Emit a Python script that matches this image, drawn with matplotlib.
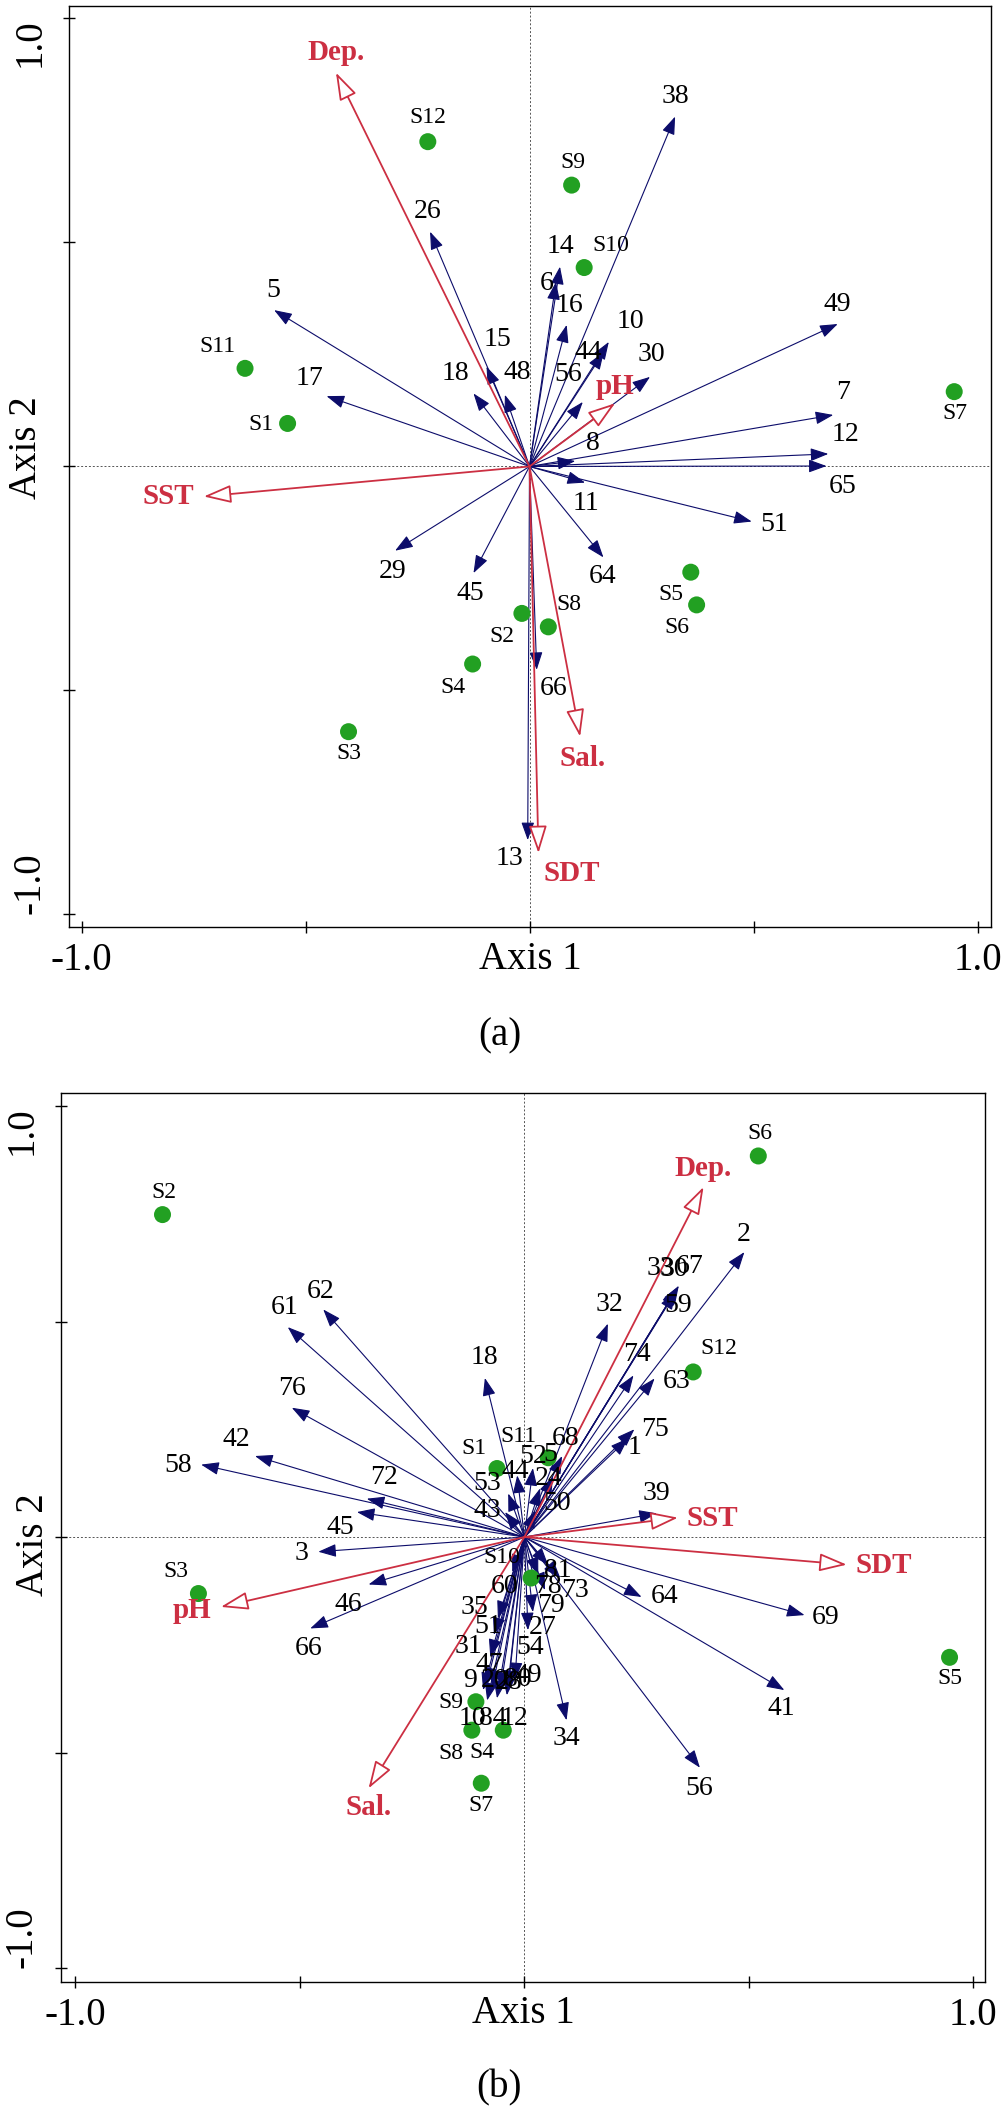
import numpy as np
import matplotlib
matplotlib.use('Agg')
import matplotlib.pyplot as plt

plt.rcParams['font.family'] = 'Liberation Serif'

NAVY = '#0c0c6a'
RED = '#cc2f42'
GREEN = '#22a022'

# ---------------- panel (a) ----------------
a_env = ['Dep.', 'SST', 'pH', 'Sal.', 'SDT']
a_env_x = [-0.432, -0.727, 0.191, 0.113, 0.020]
a_env_y = [0.879, -0.067, 0.141, -0.603, -0.863]

a_sp = ['5', '17', '26', '15', '18', '48', '38', '14', '6', '16', '10', '44', '56',
        '30', '49', '7', '12', '65', '8', '11', '51', '64', '66', '13', '29', '45']
a_sp_x = [-0.570, -0.453, -0.222, -0.096, -0.125, -0.055, 0.325, 0.068, 0.059, 0.083,
          0.177, 0.166, 0.119, 0.269, 0.688, 0.678, 0.667, 0.663, 0.102, 0.124,
          0.496, 0.165, 0.016, -0.004, -0.300, -0.125]
a_sp_y = [0.349, 0.157, 0.524, 0.223, 0.163, 0.160, 0.781, 0.446, 0.412, 0.316,
          0.278, 0.256, 0.144, 0.200, 0.318, 0.115, 0.028, 0.001, 0.012, -0.036,
          -0.123, -0.203, -0.454, -0.834, -0.188, -0.238]

a_site = ['S12', 'S9', 'S10', 'S11', 'S1', 'S7', 'S5', 'S6', 'S8', 'S2', 'S4', 'S3']
a_site_x = [-0.227, 0.094, 0.122, -0.635, -0.540, 0.948, 0.360, 0.373, 0.042, -0.017, -0.127, -0.404]
a_site_y = [0.725, 0.628, 0.444, 0.219, 0.096, 0.167, -0.236, -0.309, -0.358, -0.328, -0.441, -0.592]

# ---------------- panel (b) ----------------
b_env = ['Dep.', 'SST', 'SDT', 'pH', 'Sal.']
b_env_x = [0.399, 0.342, 0.718, -0.676, -0.347]
b_env_y = [0.812, 0.045, -0.064, -0.162, -0.583]

b_sp = ['62', '61', '18', '76', '42', '58', '72', '45', '3', '46', '66', '2',
        '33', '30', '67', '59', '32', '74', '63', '75', '1', '39', '64', '69', '41', '56', '34',
        '53', '43', '44', '52', '5', '68', '50', '24',
        '60', '35', '51', '31', '47', '9', '20', '28', '80', '49', '10', '84', '12',
        '54', '27', '79', '78', '81', '73']
b_sp_x = [-0.448, -0.527, -0.088, -0.518, -0.600, -0.720, -0.351, -0.373, -0.459, -0.347, -0.477, 0.490,
          0.342, 0.340, 0.344, 0.337, 0.186, 0.243, 0.290, 0.245, 0.231, 0.295, 0.261, 0.624, 0.579, 0.391, 0.094,
          -0.036, -0.043, -0.016, 0.019, 0.064, 0.084, 0.024, 0.035,
          -0.027, -0.059, -0.068, -0.076, -0.085, -0.092, -0.072, -0.054, -0.036, -0.021, -0.083, -0.061, -0.039,
          0.008, 0.019, 0.046, 0.031, 0.053, 0.080]
b_sp_y = [0.528, 0.487, 0.369, 0.300, 0.188, 0.168, 0.089, 0.058, -0.034, -0.110, -0.212, 0.661,
          0.580, 0.577, 0.583, 0.569, 0.495, 0.375, 0.368, 0.250, 0.229, 0.055, -0.139, -0.181, -0.355, -0.535, -0.425,
          0.101, 0.058, 0.143, 0.160, 0.141, 0.188, 0.062, 0.113,
          -0.081, -0.189, -0.227, -0.278, -0.343, -0.355, -0.350, -0.355, -0.350, -0.332, -0.379, -0.374, -0.367,
          -0.216, -0.174, -0.123, -0.088, -0.065, -0.095]

b_site = ['S2', 'S6', 'S12', 'S1', 'S11', 'S10', 'S3', 'S5', 'S9', 'S8', 'S4', 'S7']
b_site_x = [-0.806, 0.521, 0.376, -0.061, 0.053, 0.015, -0.726, 0.947, -0.108, -0.117, -0.047, -0.096]
b_site_y = [0.748, 0.884, 0.383, 0.159, 0.184, -0.095, -0.131, -0.279, -0.382, -0.448, -0.448, -0.571]

# label offsets (pixels) from arrow tips / points
a_env_off = [(0, 20), (-36, 0), (0, 17), (2, -22), (33, -20)]
a_sp_off = [(-1, 20), (-17, 18), (-2, 20), (11, 27), (-18, 20), (12, 22), (0, 20), (0, 20), (-9, -2),
            (3, 19), (22, 20), (-16, -1), (-15, 27), (1, 22), (0, 20), (10, 22), (17, 19), (16, -20),
            (18, 18), (1, -21), (22, -3), (-1, -19), (17, -19), (-18, -18), (-2, -21), (-3, -20)]
a_site_off = [(0, 24), (1, 23), (27, 22), (-28, 22), (-27, -1), (1, -22), (-20, -22), (-20, -23),
              (21, 22), (-20, -23), (-20, -23), (0, -22)]

b_env_off = [(0, 19), (34, -1), (37, -1), (-29, -4), (0, -19)]
b_sp_off = [(-3, 18), (-3, 20), (0, 20), (0, 19), (-19, 17), (-23, -1), (17, 21), (-17, -15), (-17, -2),
            (-20, -20), (-2, -20), (-1, 18),
            (-17, 19), (-3, 19), (11, 19), (3, -14), (2, 19), (3, 21), (22, -3), (21, 0), (6, -9), (0, 20),
            (23, 0), (21, -2), (-3, -18), (-1, -21), (0, -18),
            (-21, 10), (-18, 2), (-2, 4), (0, 12), (-3, 22), (3, 18), (22, 7), (8, 10),
            (-8, -15), (-23, 11), (-6, 8), (-22, 10), (3, 20), (-13, 10), (3, 7), (8, 8), (10, 8), (13, 5),
            (-15, -18), (-4, -20), (8, -23),
            (2, -17), (10, -15), (6, -15), (10, -12), (10, -5), (15, -12)]
b_site_off = [(1, 22), (2, 22), (26, 23), (-23, 20), (-30, 21), (-29, 21), (-23, 22), (0, -21),
              (-25, -1), (-21, -23), (-21, -22), (0, -22)]


def biplot(ax, env, ex, ey, eoff, sp, sx, sy, soff, site, tx, ty, toff):
    ax.axhline(0, color='#555555', lw=0.7, ls=(0, (2, 2)), zorder=1)
    ax.axvline(0, color='#555555', lw=0.7, ls=(0, (2, 2)), zorder=1)
    for lab, x, y, off in zip(sp, sx, sy, soff):
        ax.annotate('', xy=(x, y), xytext=(0, 0),
                    arrowprops=dict(arrowstyle='-|>,head_length=0.55,head_width=0.2',
                                    color=NAVY, lw=0.8, shrinkA=0, shrinkB=0,
                                    mutation_scale=20), zorder=3)
        ax.annotate(lab, xy=(x, y), xytext=off, textcoords='offset pixels',
                    ha='center', va='center', fontsize=20, color='black', zorder=6)
    for lab, x, y, off in zip(env, ex, ey, eoff):
        ax.annotate('', xy=(x, y), xytext=(0, 0),
                    arrowprops=dict(arrowstyle='-|>,head_length=0.85,head_width=0.28',
                                    ec=RED, fc='white', lw=1.3, shrinkA=0, shrinkB=0,
                                    mutation_scale=20), zorder=4)
        ax.annotate(lab, xy=(x, y), xytext=off, textcoords='offset pixels',
                    ha='center', va='center', fontsize=21, fontweight='bold',
                    color=RED, zorder=6)
    ax.scatter(tx, ty, s=150, color=GREEN, edgecolors='none', zorder=5)
    for lab, x, y, off in zip(site, tx, ty, toff):
        ax.annotate(lab, xy=(x, y), xytext=off, textcoords='offset pixels',
                    ha='center', va='center', fontsize=17, color='black', zorder=6)

    ax.set_xticks([-1, -0.5, 0, 0.5, 1])
    ax.set_yticks([-1, -0.5, 0, 0.5, 1])
    ax.set_xticklabels(['-1.0', '', '', '', '1.0'])
    ax.set_yticklabels(['-1.0', '', '', '', '1.0'], rotation=90)
    ax.tick_params(direction='inout', length=9, width=1.0, labelsize=28,
                   top=False, right=False)
    ax.tick_params(axis='x', pad=6)
    ax.tick_params(axis='y', pad=10)
    yl = ax.get_yticklabels()
    yl[0].set_va('bottom')
    yl[-1].set_va('top')
    for s in ax.spines.values():
        s.set_linewidth(1.0)
    ax.set_xlabel('Axis 1', fontsize=28, va='top')
    ax.set_ylabel('Axis 2', fontsize=28, va='center')


fig = plt.figure(figsize=(10.04, 21.15), dpi=100)

ax1 = fig.add_axes([0.0687, 0.5617, 0.9183, 0.4355])
biplot(ax1, a_env, a_env_x, a_env_y, a_env_off, a_sp, a_sp_x, a_sp_y, a_sp_off,
       a_site, a_site_x, a_site_y, a_site_off)
ax1.set_xlim(-1.028, 1.030)
ax1.set_ylim(-1.028, 1.028)
ax1.xaxis.set_label_coords(0.5, -0.0152)
ax1.yaxis.set_label_coords(-0.0466, 0.52)

ax2 = fig.add_axes([0.0608, 0.0627, 0.9203, 0.4203])
biplot(ax2, b_env, b_env_x, b_env_y, b_env_off, b_sp, b_sp_x, b_sp_y, b_sp_off,
       b_site, b_site_x, b_site_y, b_site_off)
ax2.set_xlim(-1.032, 1.026)
ax2.set_ylim(-1.033, 1.029)
ax2.xaxis.set_label_coords(0.5, -0.0143)
ax2.yaxis.set_label_coords(-0.030, 0.492)

fig.text(0.498, 1 - 1036 / 2115, '(a)', ha='center', va='center', fontsize=28)
fig.text(0.497, 1 - 2088 / 2115, '(b)', ha='center', va='center', fontsize=28)

fig.savefig('out.png', dpi=100)
